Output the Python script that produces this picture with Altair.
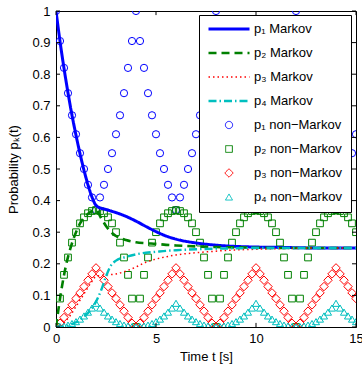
import altair as alt
import pandas as pd

# ---------------- data ----------------
SERIES = ["p\u2081 Markov", "p\u2082 Markov", "p\u2083 Markov", "p\u2084 Markov",
          "p\u2081 non\u2212Markov", "p\u2082 non\u2212Markov", "p\u2083 non\u2212Markov", "p\u2084 non\u2212Markov"]

T_NM = [0.0, 0.2, 0.4, 0.6, 0.8, 1.0, 1.2, 1.4, 1.6, 1.8, 2.0, 2.2, 2.4, 2.6, 2.8, 3.0, 3.2, 3.4, 3.6, 3.8,
        4.0, 4.2, 4.4, 4.6, 4.8, 5.0, 5.2, 5.4, 5.6, 5.8, 6.0, 6.2, 6.4, 6.6, 6.8, 7.0, 7.2, 7.4, 7.6, 7.8,
        8.0, 8.2, 8.4, 8.6, 8.8, 9.0, 9.2, 9.4, 9.6, 9.8, 10.0, 10.2, 10.4, 10.6, 10.8, 11.0, 11.2, 11.4, 11.6, 11.8,
        12.0, 12.2, 12.4, 12.6, 12.8, 13.0, 13.2, 13.4, 13.6, 13.8, 14.0, 14.2, 14.4, 14.6, 14.8, 15.0]

P1_NM = [1.00, 0.905, 0.82, 0.74, 0.67, 0.61, 0.55, 0.50, 0.45, 0.41, 0.37, 0.41, 0.45, 0.50, 0.55, 0.61, 0.67, 0.74, 0.82, 0.905,
         1.00, 0.905, 0.82, 0.74, 0.67, 0.61, 0.55, 0.50, 0.45, 0.41, 0.37, 0.41, 0.45, 0.50, 0.55, 0.61, 0.67, 0.74, 0.82, 0.905,
         1.00, 0.905, 0.82, 0.74, 0.67, 0.61, 0.55, 0.50, 0.45, 0.41, 0.37, 0.41, 0.45, 0.50, 0.55, 0.61, 0.67, 0.74, 0.82, 0.905,
         1.00, 0.905, 0.82, 0.74, 0.67, 0.61, 0.55, 0.50, 0.45, 0.41, 0.37, 0.41, 0.45, 0.50, 0.55, 0.61]
P2_NM = [0.00, 0.09, 0.165, 0.22, 0.267, 0.30, 0.328, 0.347, 0.36, 0.367, 0.37, 0.367, 0.36, 0.347, 0.328, 0.30, 0.267, 0.22, 0.165, 0.09,
         0.00, 0.09, 0.165, 0.22, 0.267, 0.30, 0.328, 0.347, 0.36, 0.367, 0.37, 0.367, 0.36, 0.347, 0.328, 0.30, 0.267, 0.22, 0.165, 0.09,
         0.00, 0.09, 0.165, 0.22, 0.267, 0.30, 0.328, 0.347, 0.36, 0.367, 0.37, 0.367, 0.36, 0.347, 0.328, 0.30, 0.267, 0.22, 0.165, 0.09,
         0.00, 0.09, 0.165, 0.22, 0.267, 0.30, 0.328, 0.347, 0.36, 0.367, 0.37, 0.367, 0.36, 0.347, 0.328, 0.30]
P3_NM = [0.00, 0.012, 0.03, 0.05, 0.07, 0.09, 0.108, 0.128, 0.148, 0.168, 0.187, 0.168, 0.148, 0.128, 0.108, 0.09, 0.07, 0.05, 0.03, 0.012,
         0.00, 0.012, 0.03, 0.05, 0.07, 0.09, 0.108, 0.128, 0.148, 0.168, 0.187, 0.168, 0.148, 0.128, 0.108, 0.09, 0.07, 0.05, 0.03, 0.012,
         0.00, 0.012, 0.03, 0.05, 0.07, 0.09, 0.108, 0.128, 0.148, 0.168, 0.187, 0.168, 0.148, 0.128, 0.108, 0.09, 0.07, 0.05, 0.03, 0.012,
         0.00, 0.012, 0.03, 0.05, 0.07, 0.09, 0.108, 0.128, 0.148, 0.168, 0.187, 0.168, 0.148, 0.128, 0.108, 0.09]
P4_NM = [0.00, 0.001, 0.003, 0.006, 0.011, 0.017, 0.025, 0.035, 0.047, 0.06, 0.075, 0.06, 0.047, 0.035, 0.025, 0.017, 0.011, 0.006, 0.003, 0.001,
         0.00, 0.001, 0.003, 0.006, 0.011, 0.017, 0.025, 0.035, 0.047, 0.06, 0.075, 0.06, 0.047, 0.035, 0.025, 0.017, 0.011, 0.006, 0.003, 0.001,
         0.00, 0.001, 0.003, 0.006, 0.011, 0.017, 0.025, 0.035, 0.047, 0.06, 0.075, 0.06, 0.047, 0.035, 0.025, 0.017, 0.011, 0.006, 0.003, 0.001,
         0.00, 0.001, 0.003, 0.006, 0.011, 0.017, 0.025, 0.035, 0.047, 0.06, 0.075, 0.06, 0.047, 0.035, 0.025, 0.017]

T_MK = [0, 0.25, 0.5, 0.75, 1, 1.25, 1.5, 1.75, 2, 2.25, 2.5, 2.75, 3, 3.5, 4, 4.5, 5, 5.5, 6, 7, 8, 9, 10, 11, 12, 13, 14, 15]
P1_MK = [1.0, 0.882, 0.779, 0.687, 0.607, 0.535, 0.472, 0.42, 0.385, 0.376, 0.372, 0.367, 0.362, 0.35, 0.335, 0.318,
         0.302, 0.288, 0.278, 0.266, 0.259, 0.255, 0.253, 0.252, 0.251, 0.25, 0.25, 0.25]
P2_MK = [0.0, 0.11, 0.195, 0.255, 0.30, 0.333, 0.352, 0.365, 0.37, 0.345, 0.32, 0.30, 0.288, 0.275, 0.268, 0.265,
         0.263, 0.26, 0.258, 0.255, 0.253, 0.252, 0.251, 0.25, 0.25, 0.25, 0.25, 0.25]
P3_MK = [0.0, 0.005, 0.02, 0.04, 0.065, 0.09, 0.115, 0.14, 0.16, 0.163, 0.165, 0.166, 0.168, 0.177, 0.19, 0.205,
         0.215, 0.222, 0.228, 0.235, 0.24, 0.244, 0.246, 0.248, 0.249, 0.25, 0.25, 0.25]
P4_MK = [0.0, 0.001, 0.003, 0.008, 0.015, 0.025, 0.038, 0.055, 0.08, 0.115, 0.16, 0.195, 0.21, 0.222, 0.23, 0.235,
         0.238, 0.241, 0.243, 0.246, 0.248, 0.249, 0.25, 0.25, 0.25, 0.25, 0.25, 0.25]

X_TICKS = [0, 5, 10, 15]
Y_TICKS = [0, 0.1, 0.2, 0.3, 0.4, 0.5, 0.6, 0.7, 0.8, 0.9, 1]

# ---------------- styles ----------------
COLORS = ["#0000ff", "#008000", "#ff0000", "#00bfbf", "#0000ff", "#008000", "#ff0000", "#00bfbf"]
DASHES = [[1, 0], [8, 5], [1.5, 3], [8, 3, 1.5, 3], [1, 0], [1, 0], [1, 0], [1, 0]]
SHAPES = ["stroke", "stroke", "stroke", "stroke", "circle", "square", "diamond", "triangle-up"]
SIZES = [1681, 1681, 1681, 1681, 52, 45, 72, 50]
WIDTHS = [3, 2.6, 1.5, 2.4, 1, 1, 1, 1]
FONT = "Liberation Sans"
TICK_X_LEN = 0.2     # inward tick length in x units (~4 px)
TICK_Y_LEN = 0.013   # inward tick length in y units (~4 px)

rows = []
for name, vals in zip(SERIES[:4], [P1_MK, P2_MK, P3_MK, P4_MK]):
    for t, p in zip(T_MK, vals):
        rows.append({"t": t, "p": p, "series": name})
df_mk = pd.DataFrame(rows)

rows = []
for name, vals in zip(SERIES[4:], [P1_NM, P2_NM, P3_NM, P4_NM]):
    for t, p in zip(T_NM, vals):
        rows.append({"t": t, "p": p, "series": name})
df_nm = pd.DataFrame(rows)

LEG = dict(orient="none", legendX=143, legendY=4, title=None)

xscale = alt.Scale(domain=[0, 15], nice=False, zero=False)
yscale = alt.Scale(domain=[0, 1], nice=False, zero=False)

AX = alt.Axis(values=X_TICKS, title="Time t [s]", ticks=False, grid=False, labelPadding=5,
              titlePadding=5, domainColor="black", labelColor="black", titleColor="black",
              labelFont=FONT, titleFont=FONT, labelFontSize=13, titleFontSize=13,
              titleFontWeight="normal", labelFlush=False, labelOverlap=False)
AY = alt.Axis(values=Y_TICKS, title="Probability p\u2096(t)", ticks=False, grid=False, format="~g",
              labelPadding=6, titlePadding=11, domainColor="black", labelColor="black",
              titleColor="black", labelFont=FONT, titleFont=FONT, labelFontSize=13,
              titleFontSize=13, titleFontWeight="normal", labelFlush=False, labelOverlap=False)

color = alt.Color("series:N", scale=alt.Scale(domain=SERIES, range=COLORS), legend=alt.Legend(**LEG))
swidth = alt.StrokeWidth("series:N", scale=alt.Scale(type="ordinal", domain=SERIES, range=WIDTHS), legend=alt.Legend(**LEG))

points = alt.Chart(df_nm).mark_point(filled=False, opacity=1, clip=True).encode(
    x=alt.X("t:Q", scale=xscale, axis=AX),
    y=alt.Y("p:Q", scale=yscale, axis=AY),
    color=color,
    shape=alt.Shape("series:N", scale=alt.Scale(domain=SERIES, range=SHAPES), legend=alt.Legend(**LEG)),
    size=alt.Size("series:N", scale=alt.Scale(type="ordinal", domain=SERIES, range=SIZES), legend=alt.Legend(**LEG)),
    strokeWidth=swidth,
)

lines = alt.Chart(df_mk).mark_line(interpolate="monotone", clip=True).encode(
    x=alt.X("t:Q", scale=xscale, axis=AX),
    y=alt.Y("p:Q", scale=yscale, axis=AY),
    color=color,
    strokeDash=alt.StrokeDash("series:N", scale=alt.Scale(domain=SERIES, range=DASHES), legend=alt.Legend(**LEG)),
    strokeWidth=swidth,
)

# inward ticks (MATLAB style) on all four sides, placed through the same scales
bottom = pd.DataFrame({"t": X_TICKS, "t2": X_TICKS, "p": [0] * len(X_TICKS), "p2": [TICK_Y_LEN] * len(X_TICKS)})
top = pd.DataFrame({"t": X_TICKS, "t2": X_TICKS, "p": [1] * len(X_TICKS), "p2": [1 - TICK_Y_LEN] * len(X_TICKS)})
left = pd.DataFrame({"p": Y_TICKS, "p2": Y_TICKS, "t": [0] * len(Y_TICKS), "t2": [TICK_X_LEN] * len(Y_TICKS)})
right = pd.DataFrame({"p": Y_TICKS, "p2": Y_TICKS, "t": [15] * len(Y_TICKS), "t2": [15 - TICK_X_LEN] * len(Y_TICKS)})
ticks = alt.Chart(pd.concat([bottom, top, left, right], ignore_index=True)).mark_rule(
    color="black", strokeWidth=1).encode(
    x=alt.X("t:Q", scale=xscale, axis=AX), x2="t2:Q",
    y=alt.Y("p:Q", scale=yscale, axis=AY), y2="p2:Q",
)

chart = alt.layer(points, lines, ticks).properties(
    width=300, height=316,
    padding={"left": 56, "top": 11, "right": 6, "bottom": 39},
    autosize=alt.AutoSizeParams(type="none"),
    background="white",
).configure_view(
    stroke="black", strokeWidth=1
).configure_legend(
    strokeColor="black", fillColor="white", padding=8, labelFont=FONT, labelFontSize=13,
    labelColor="black", labelOffset=3, rowPadding=11, clipHeight=12, cornerRadius=0,
    symbolFillColor="transparent"
)

chart.save("out.html", embed_options={"renderer": "svg", "actions": False})
